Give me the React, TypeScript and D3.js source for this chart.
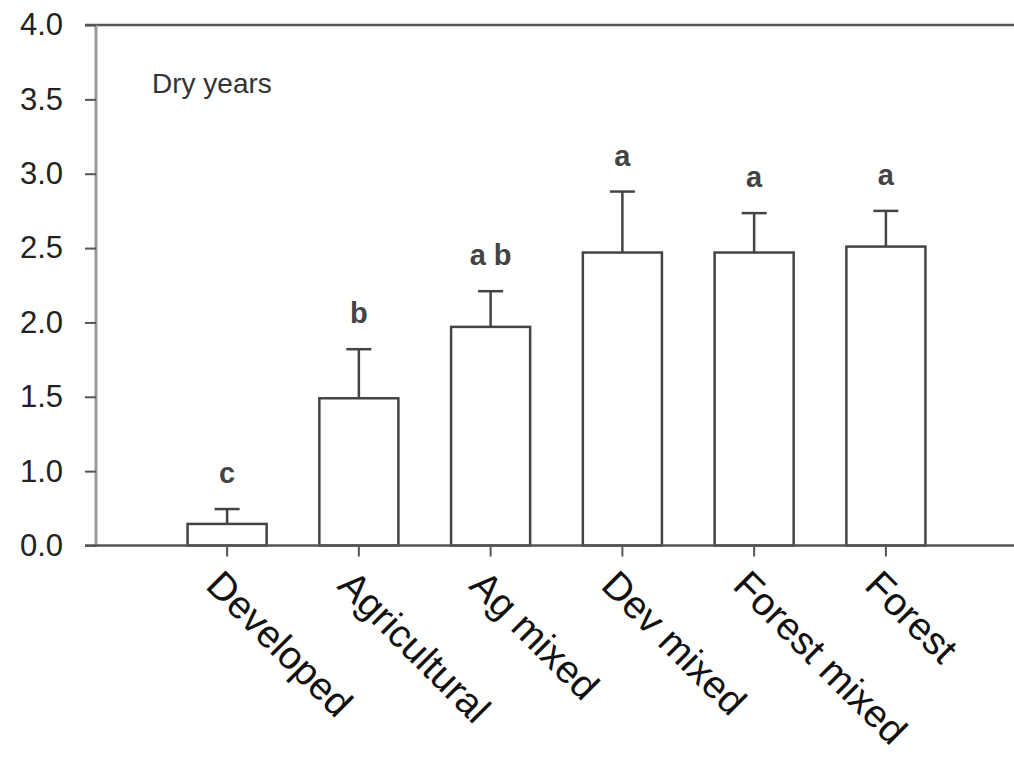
import * as d3 from "d3";
import { useRef, useEffect } from "react";

const width = 1014;
const height = 758;
const marginLeft = 96;
const axisStart = 85;
const axisEnd = 1014;
const plotTop = 25;
const plotBottom = 545.5;

const categories = [
  "Developed",
  "Agricultural",
  "Ag mixed",
  "Dev mixed",
  "Forest mixed",
  "Forest",
];
const means = [0.29, 1.49, 1.97, 2.47, 2.47, 2.51];
const errors = [0.2, 0.33, 0.24, 0.41, 0.265, 0.24];
const letters = ["c", "b", "a b", "a", "a", "a"];

// the axis is broken: 0.0 sits one step below 1.0
const yTicks = [0, 1, 1.5, 2, 2.5, 3, 3.5, 4];
const yTickLabels = ["0.0", "1.0", "1.5", "2.0", "2.5", "3.0", "3.5", "4.0"];

const font = "'Liberation Sans', Arial, Helvetica, sans-serif";

const App = () => {
  const gx = useRef<SVGGElement>(null);
  const gy = useRef<SVGGElement>(null);

  const step = (plotBottom - plotTop) / (yTicks.length - 1);
  const y = d3
    .scaleLinear()
    .domain([0, 1, 4])
    .range([plotBottom, plotBottom - step, plotTop]);

  const x = d3
    .scaleBand<string>()
    .domain(categories)
    .range([marginLeft, 1017])
    .paddingInner(0.4)
    .paddingOuter(0.695);

  useEffect(() => {
    if (gy.current) {
      const g = d3.select(gy.current);
      g.selectAll("*").remove();
      g.call(
        d3
          .axisLeft(y)
          .tickValues(yTicks)
          .tickSize(11)
          .tickPadding(22)
          .tickFormat((_, i) => yTickLabels[i])
      );
      g.select(".domain").remove();
      g.selectAll(".tick line").attr("stroke", "#555").attr("stroke-width", 2);
      g.selectAll(".tick text")
        .attr("font-family", font)
        .attr("font-size", 31)
        .attr("fill", "#222");
    }
    if (gx.current) {
      const g = d3.select(gx.current);
      g.selectAll("*").remove();
      g.call(d3.axisBottom(x).tickSize(11).tickSizeOuter(0).tickFormat(() => ""));
      g.select(".domain").remove();
      g.selectAll(".tick line").attr("stroke", "#555").attr("stroke-width", 2);
    }
  }, []);

  return (
    <svg
      width={width}
      height={height}
      viewBox={`0 0 ${width} ${height}`}
      style={{ position: "absolute", left: 0, top: 0, background: "#fff" }}
    >
      {/* bars */}
      {categories.map((c, i) => (
        <rect
          key={c}
          x={x(c)}
          y={y(means[i])}
          width={x.bandwidth()}
          height={plotBottom - y(means[i])}
          fill="#fff"
          stroke="#444"
          strokeWidth={2.5}
        />
      ))}

      {/* upper error bars */}
      {categories.map((c, i) => {
        const cx = (x(c) as number) + x.bandwidth() / 2;
        const top = y(means[i] + errors[i]);
        return (
          <g key={c} stroke="#444" strokeWidth={2.5}>
            <line x1={cx} x2={cx} y1={y(means[i])} y2={top} />
            <line x1={cx - 12.5} x2={cx + 12.5} y1={top} y2={top} />
          </g>
        );
      })}

      {/* significance letters */}
      {categories.map((c, i) => (
        <text
          key={c}
          x={(x(c) as number) + x.bandwidth() / 2}
          y={y(means[i] + errors[i]) - 26}
          textAnchor="middle"
          fontFamily={font}
          fontSize={29}
          fontWeight="bold"
          fill="#444"
        >
          {letters[i]}
        </text>
      ))}

      {/* frame */}
      <line x1={axisStart} x2={axisEnd} y1={plotTop} y2={plotTop} stroke="#555" strokeWidth={2.5} />
      <line x1={marginLeft} x2={marginLeft} y1={plotTop} y2={plotBottom} stroke="#999" strokeWidth={3} />
      <line x1={axisStart} x2={axisEnd} y1={plotBottom} y2={plotBottom} stroke="#555" strokeWidth={2.5} />

      <g ref={gy} transform={`translate(${axisStart + 11}, 0)`} />
      <g ref={gx} transform={`translate(0, ${plotBottom})`} />

      {/* rotated category labels */}
      {categories.map((c) => (
        <text
          key={c}
          transform={`translate(${(x(c) as number) + x.bandwidth() / 2 - 3}, ${plotBottom + 22}) rotate(45)`}
          dy="0.72em"
          fontFamily={font}
          fontSize={39}
          fill="#111"
        >
          {c}
        </text>
      ))}

      <text x={152} y={93} fontFamily={font} fontSize={28} fill="#333">
        Dry years
      </text>
    </svg>
  );
};

export default App;
